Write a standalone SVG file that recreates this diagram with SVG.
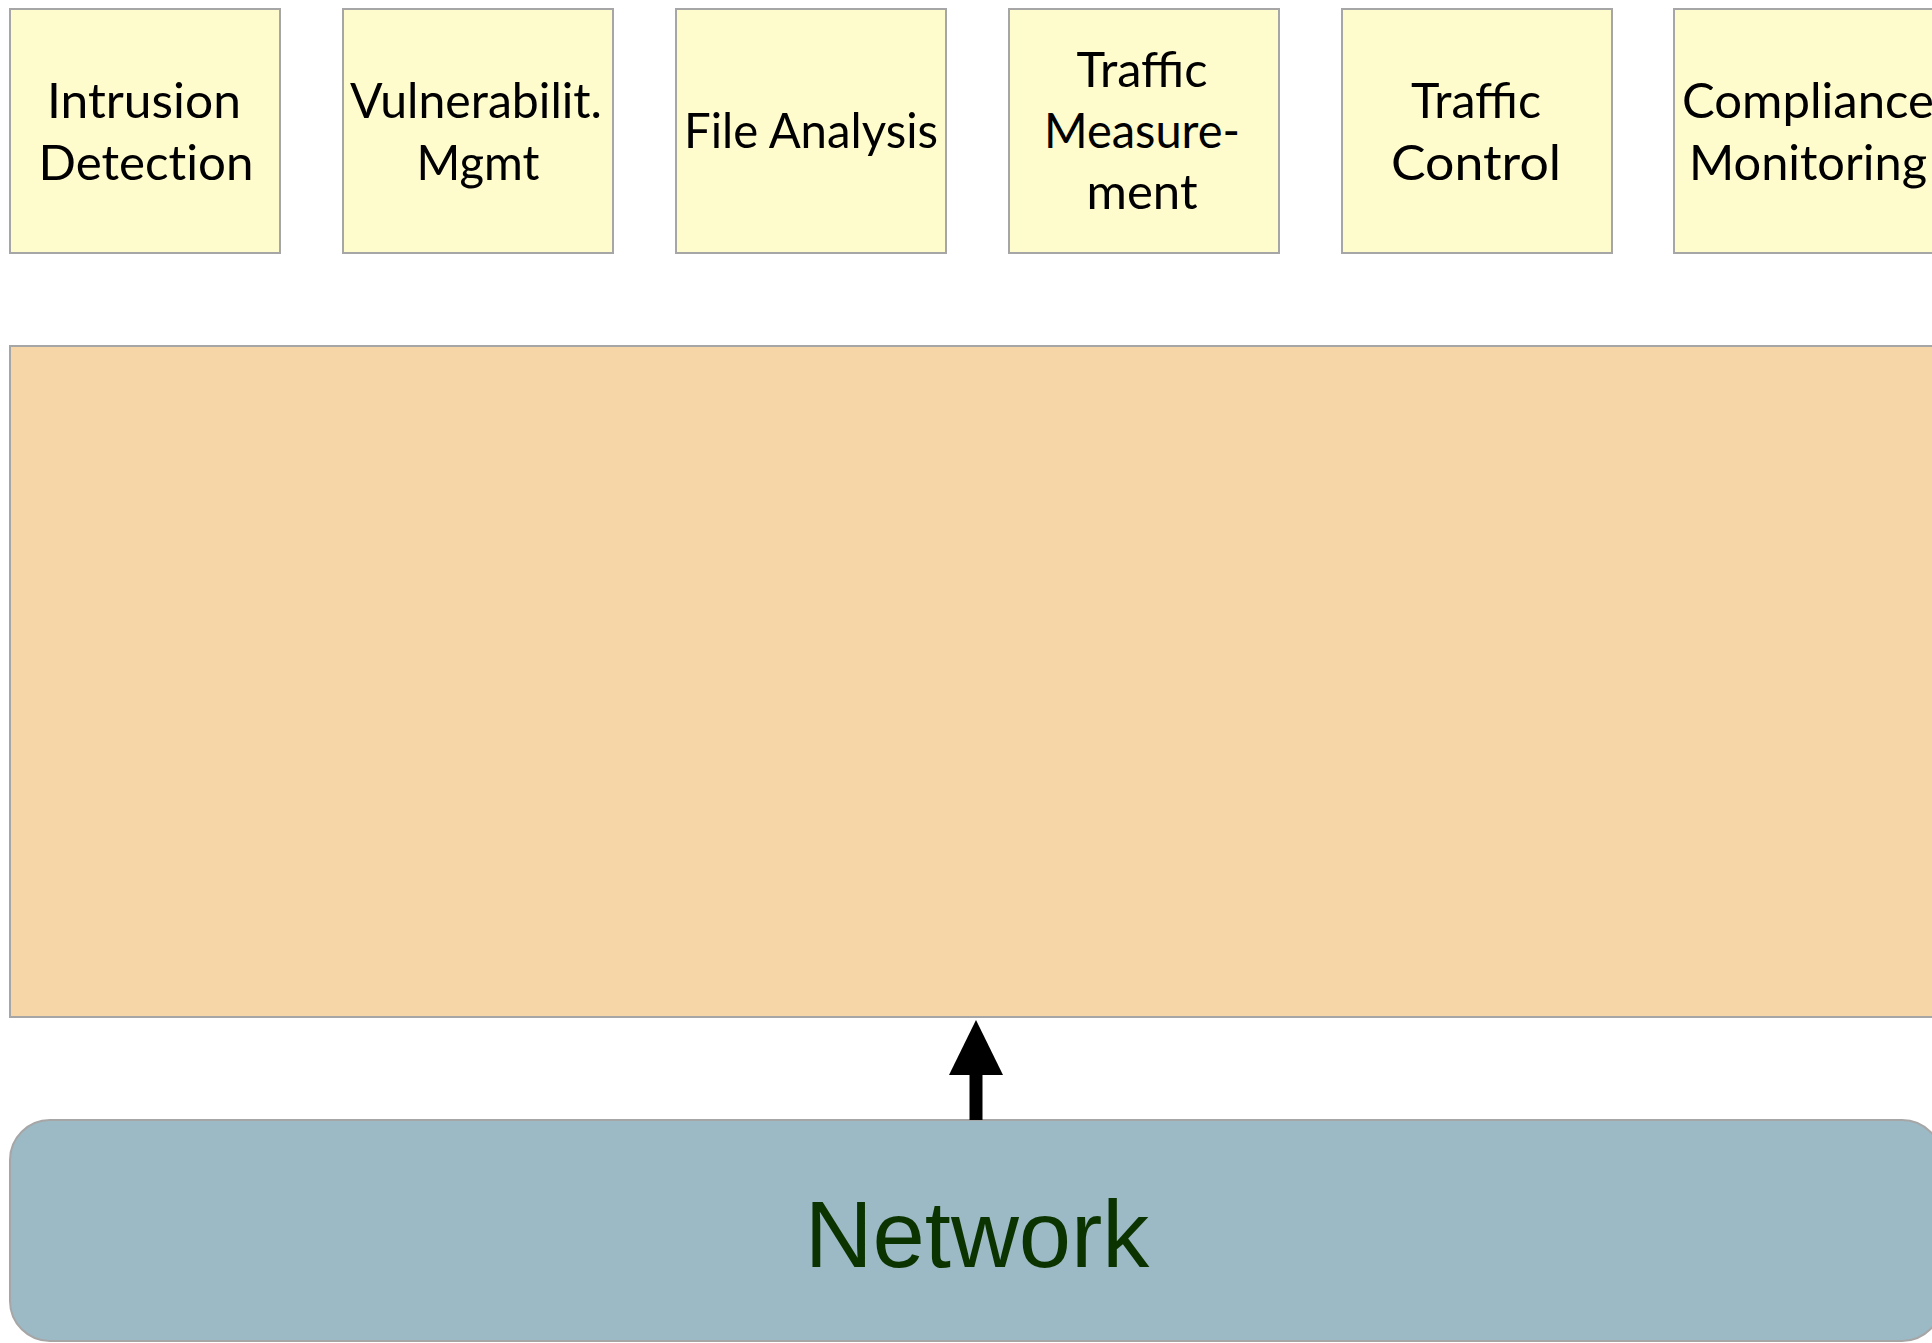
<svg xmlns="http://www.w3.org/2000/svg" width="1932" height="1343" viewBox="0 0 1932 1343">
<defs>
<style>
.app rect{fill:#FEFBCC;stroke:#A6A6A6;stroke-width:2}
.app text{font-family:Lato,"Open Sans","Liberation Sans",sans-serif;font-size:49px;fill:#000;text-anchor:middle}
.nolig{font-variant-ligatures:no-common-ligatures}
#core rect{fill:#F6D6A7;stroke:#A6A6A6;stroke-width:2}
#network rect{fill:#9CBAC6;stroke:#A6A6A6;stroke-width:2}
#network text{font-family:"Liberation Sans",Arial,sans-serif;font-size:94px;fill:#0B3300;text-anchor:middle}
.conn{stroke:#000;stroke-width:13;fill:none}
</style>
<marker id="head" viewBox="0 0 55 54" refX="0" refY="27" markerWidth="55" markerHeight="54" markerUnits="userSpaceOnUse" orient="auto">
<path d="M0,0 L55,27 L0,54 Z" fill="#000"/>
</marker>
</defs>
<rect width="1932" height="1343" fill="#fff"/>
<g id="intrusion" class="app">
<rect x="10" y="9" width="270" height="244"/>
<text x="144" y="118" textLength="194" lengthAdjust="spacingAndGlyphs">Intrusion</text>
<text x="146" y="180" textLength="215" lengthAdjust="spacingAndGlyphs" class="nolig">Detection</text>
</g>
<g id="vulnerability" class="app">
<rect x="343" y="9" width="270" height="244"/>
<text x="476" y="118" textLength="252" lengthAdjust="spacingAndGlyphs">Vulnerabilit.</text>
<text x="478" y="180" textLength="123" lengthAdjust="spacingAndGlyphs">Mgmt</text>
</g>
<g id="file-analysis" class="app">
<rect x="676" y="9" width="270" height="244"/>
<text x="811" y="148" textLength="254" lengthAdjust="spacingAndGlyphs">File Analysis</text>
</g>
<g id="traffic-measurement" class="app">
<rect x="1009" y="9" width="270" height="244"/>
<text x="1142" y="87" textLength="131" lengthAdjust="spacingAndGlyphs">Traffic</text>
<text x="1142" y="148" textLength="196" lengthAdjust="spacingAndGlyphs">Measure-</text>
<text x="1142" y="209" textLength="111" lengthAdjust="spacingAndGlyphs">ment</text>
</g>
<g id="traffic-control" class="app">
<rect x="1342" y="9" width="270" height="244"/>
<text x="1476" y="118" textLength="130" lengthAdjust="spacingAndGlyphs">Traffic</text>
<text x="1476" y="180" textLength="170" lengthAdjust="spacingAndGlyphs">Control</text>
</g>
<g id="compliance" class="app">
<rect x="1674" y="9" width="270" height="244"/>
<text x="1808" y="118" textLength="252" lengthAdjust="spacingAndGlyphs">Compliance</text>
<text x="1808" y="180" textLength="238" lengthAdjust="spacingAndGlyphs">Monitoring</text>
</g>
<g id="core">
<rect x="10" y="346" width="1934" height="671"/>
</g>
<g id="network">
<rect x="10" y="1120" width="1932" height="221" rx="40" ry="40"/>
<text x="977" y="1267">Network</text>
</g>
<g id="connectors">
<line class="conn" x1="976" y1="1120" x2="976" y2="1075" marker-end="url(#head)"/>
</g>
</svg>
